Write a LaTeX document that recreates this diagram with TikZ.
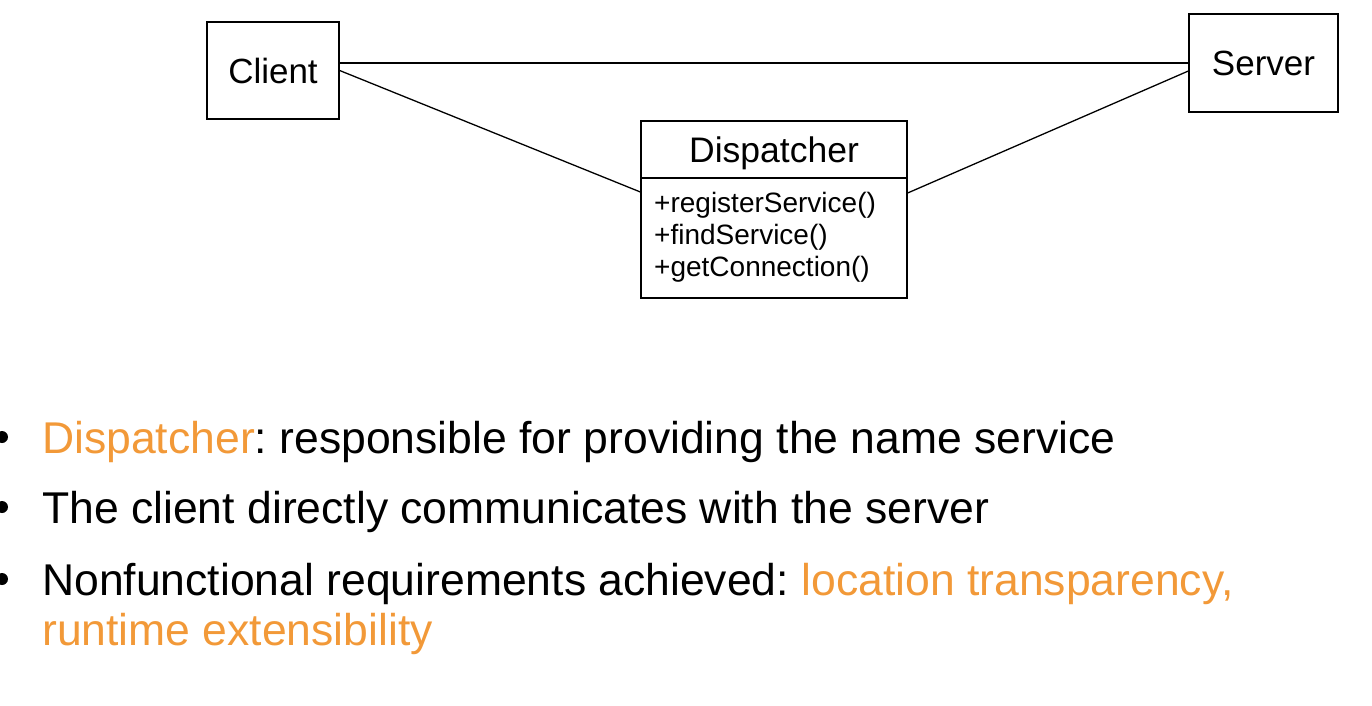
\documentclass[tikz,border=0pt]{standalone}
\usepackage{fontspec}
\setmainfont{Liberation Sans}
\definecolor{accent}{RGB}{242,153,56}
\frenchspacing
\begin{document}
\begin{tikzpicture}[x=1pt,y=-1pt,
  box/.style={draw,line width=1.3pt,inner sep=0pt},
  conn/.style={line width=1.3pt},
  bigtxt/.style={font=\fontsize{35}{42}\selectfont},
  methtxt/.style={font=\fontsize{28}{32}\selectfont,anchor=base west,inner sep=0pt},
  bullettxt/.style={font=\fontsize{44.5}{50}\selectfont,anchor=base west,inner sep=0pt},
  bulletdot/.style={fill,circle,inner sep=0pt,minimum size=12pt}]
\useasboundingbox (0,0) rectangle (1372,706);
% classes
\node[box,bigtxt,minimum width=132pt,minimum height=97pt] (client) at (273,70.5) {Client};
\node[box,bigtxt,minimum width=149pt,minimum height=98pt] (server) at (1263.5,63) {Server};
\node[box,minimum width=266pt,minimum height=177pt] (disp) at (774,209.5) {};
\draw[conn] (disp.west |- 0,178) coordinate (sepL) -- (disp.east |- 0,178) coordinate (sepR);
\node[font=\fontsize{35.5}{42}\selectfont,anchor=base,inner sep=0pt] (dtitle) at (774,162) {Dispatcher};
\node[methtxt] (m1) at (654,212) {+registerService()};
\node[methtxt] (m2) at (654,244) {+findService()};
\node[methtxt] (m3) at (654,276) {+getConnection()};
% connectors
\draw[conn] (client.east |- server.west) -- (server.west);
\draw[conn] (client.east) -- ([yshift=17.5pt]disp.west);
\draw[conn] ([yshift=-8pt]server.west) -- ([yshift=16.5pt]disp.east);
% bullets
\node[bulletdot] (d1) at (2,437) {};
\node[bulletdot] (d2) at (2,507) {};
\node[bulletdot] (d3) at (2,579) {};
\node[bullettxt] (b1) at (42,453) {\textcolor{accent}{Dispatcher}: responsible for providing the name service};
\node[bullettxt] (b2) at (42,523) {The client directly communicates with the server};
\node[bullettxt] (b3) at (42,595) {Nonfunctional requirements achieved: \textcolor{accent}{location transparency,}};
\node[bullettxt] (b4) at (42,645) {\textcolor{accent}{runtime extensibility}};
\end{tikzpicture}
\end{document}
